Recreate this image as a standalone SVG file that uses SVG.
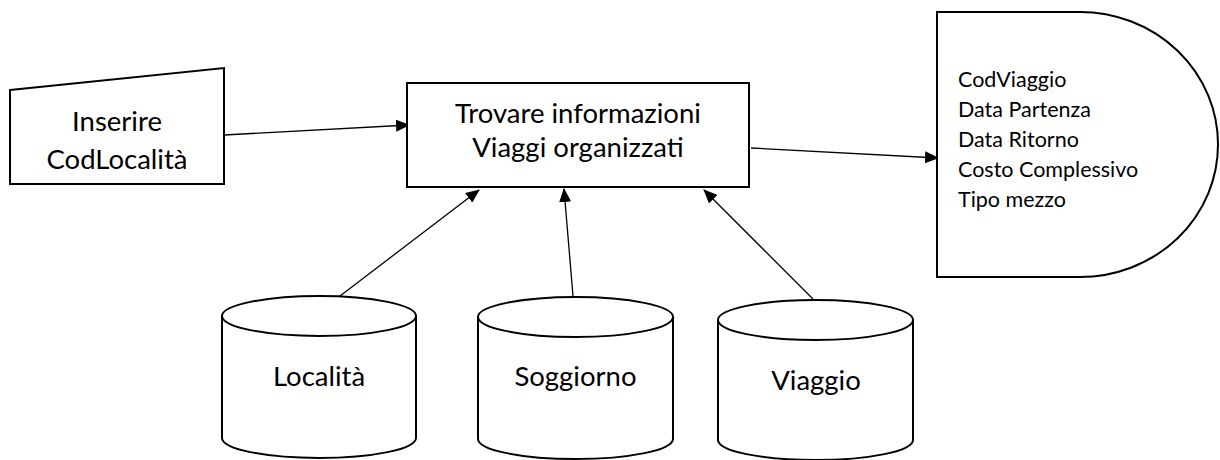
<svg xmlns="http://www.w3.org/2000/svg" width="1220" height="460" viewBox="0 0 1220 460">
<defs>
<marker id="arr" markerWidth="14" markerHeight="12" refX="13" refY="6" orient="auto" markerUnits="userSpaceOnUse" viewBox="0 0 14 12">
<path d="M0,0 L14,6 L0,12 Z" fill="#000"/>
</marker>
<style>
.shape{fill:#fff;stroke:#000;stroke-width:2}
.lbl{font-family:Lato,"Liberation Sans",sans-serif;font-size:27.5px;fill:#000;text-anchor:middle}
.lst{font-family:Lato,"Liberation Sans",sans-serif;font-size:21.5px;fill:#000}
.conn{stroke:#000;stroke-width:1.3;fill:none;marker-end:url(#arr)}
</style>
</defs>
<rect width="1220" height="460" fill="#fff"/>
<g id="connectors">
<line class="conn" x1="224" y1="135" x2="409" y2="125"/>
<line class="conn" x1="751" y1="148" x2="938" y2="158"/>
<line class="conn" x1="340" y1="296" x2="479" y2="190"/>
<line class="conn" x1="573" y1="296" x2="564" y2="189"/>
<line class="conn" x1="813" y1="299" x2="704" y2="190"/>
</g>
<g id="input">
<polygon class="shape" points="10,90 224,68 224,184 10,184"/>
<text class="lbl" x="117" y="131">Inserire</text>
<text class="lbl" x="117" y="169">CodLocalità</text>
</g>
<g id="process">
<rect class="shape" x="407" y="83" width="342" height="104"/>
<text class="lbl" x="578" y="123">Trovare informazioni</text>
<text class="lbl" x="578" y="157">Viaggi organizzati</text>
</g>
<g id="output">
<path class="shape" d="M937,12 H1080 A138,132.5 0 0 1 1080,277 H937 Z"/>
<text class="lst" x="958" y="87">CodViaggio</text>
<text class="lst" x="958" y="117">Data Partenza</text>
<text class="lst" x="958" y="147">Data Ritorno</text>
<text class="lst" x="958" y="177">Costo Complessivo</text>
<text class="lst" x="958" y="207">Tipo mezzo</text>
</g>
<g id="localita">
<path class="shape" d="M222,316 V438 A97,20 0 0 0 416,438 V316"/>
<ellipse class="shape" cx="319" cy="316" rx="97" ry="20"/>
<text class="lbl" x="319" y="386">Località</text>
</g>
<g id="soggiorno">
<path class="shape" d="M478,317 V439 A97.5,20 0 0 0 673,439 V317"/>
<ellipse class="shape" cx="575.5" cy="317" rx="97.5" ry="20"/>
<text class="lbl" x="575.5" y="386">Soggiorno</text>
</g>
<g id="viaggio">
<path class="shape" d="M718,320 V440 A97.5,20 0 0 0 913,440 V320"/>
<ellipse class="shape" cx="815.5" cy="320" rx="97.5" ry="20"/>
<text class="lbl" x="816" y="390">Viaggio</text>
</g>
</svg>
